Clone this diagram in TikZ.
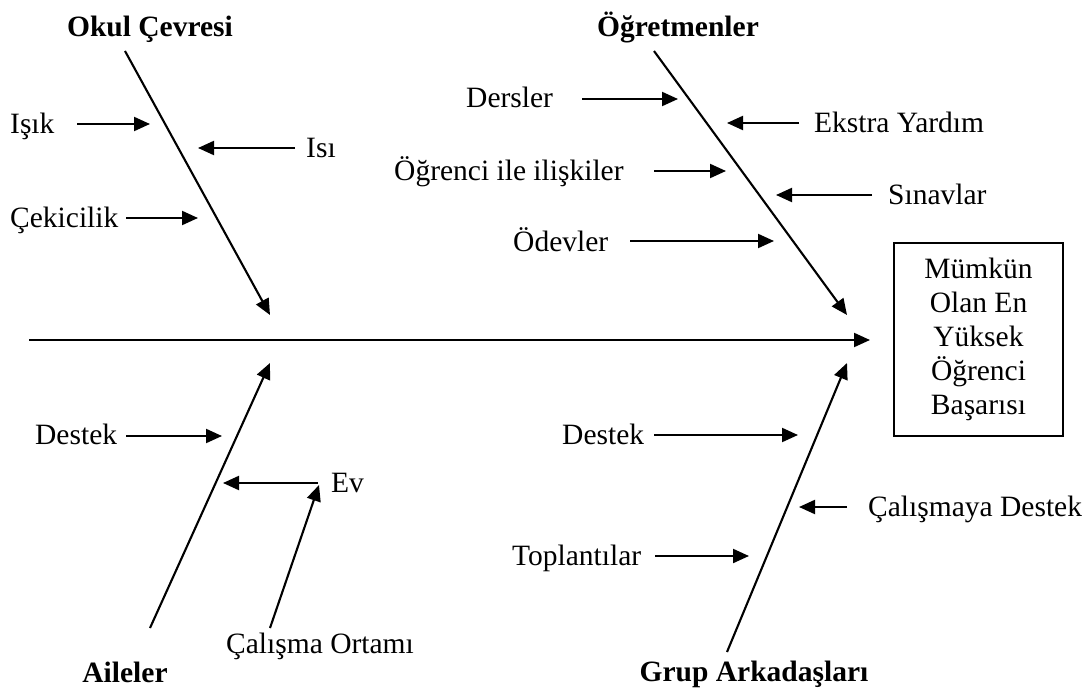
\documentclass[tikz,border=0pt]{standalone}
\usepackage{fontspec}
\setmainfont{Liberation Serif}
\usetikzlibrary{arrows.meta}
\begin{document}
\begin{tikzpicture}[x=1pt,y=-1pt,
  txt/.style={inner sep=0pt, text height=19.5pt, text depth=0pt, font=\fontsize{29.5}{34}\selectfont},
  lbl/.style={txt, anchor=west},
  ttl/.style={txt, anchor=center, font=\fontsize{29.5}{34}\selectfont\bfseries},
  arr/.style={-{Triangle[length=16pt,width=14pt]}, line width=2.1pt},
  goalbox/.style={draw, line width=2pt, minimum width=169pt, minimum height=193pt, align=center, inner sep=0pt, font=\fontsize{29.5}{34}\selectfont}]
\useasboundingbox (0,0) rectangle (1092,690);

% titles
\node[ttl] (okul) at (150,27) {Okul Çevresi};
\node[ttl] (ogret) at (678,27) {Öğretmenler};
\node[ttl] (aile) at (125,673) {Aileler};
\node[ttl] (grup) at (754,672) {Grup Arkadaşları};

% goal box
\node[goalbox] (goal) at (978.5,339.5) {Mümkün\\Olan En\\Yüksek\\Öğrenci\\Başarısı};

% labels
\node[lbl] (isik) at (10,124) {Işık};
\node[lbl] (isi) at (306,148) {Isı};
\node[lbl] (cek) at (10,218) {Çekicilik};
\node[lbl] (ders) at (466,98) {Dersler};
\node[lbl] (ogrenci) at (394,171) {Öğrenci ile ilişkiler};
\node[lbl] (odev) at (513,242) {Ödevler};
\node[lbl] (ekstra) at (814,123) {Ekstra Yardım};
\node[lbl] (sinav) at (888,195) {Sınavlar};
\node[lbl] (destekL) at (35,435) {Destek};
\node[lbl] (ev) at (331,483) {Ev};
\node[lbl] (calort) at (226,644) {Çalışma Ortamı};
\node[lbl] (destekR) at (562,435) {Destek};
\node[lbl] (calis) at (868,507) {Çalışmaya Destek};
\node[lbl] (topl) at (512,556) {Toplantılar};

% spine and bones
\coordinate (spS) at (29,340);  \coordinate (spE) at (870,340);
\coordinate (okS) at (125,51);  \coordinate (okE) at (270,315);
\coordinate (ogS) at (654,51);  \coordinate (ogE) at (847,315);
\coordinate (aiS) at (150,628); \coordinate (aiE) at (270,363);
\coordinate (grS) at (727,652); \coordinate (grE) at (847,363);
\draw[arr] (spS) -- (spE);
\draw[arr] (okS) -- (okE);
\draw[arr] (ogS) -- (ogE);
\draw[arr] (aiS) -- (aiE);
\draw[arr] (grS) -- (grE);

% small arrows
\coordinate (a1s) at (77,124);  \coordinate (a1e) at (150,124);
\coordinate (a2s) at (295,148); \coordinate (a2e) at (198,148);
\coordinate (a3s) at (126,218); \coordinate (a3e) at (198,218);
\coordinate (a4s) at (582,99);  \coordinate (a4e) at (678,99);
\coordinate (a5s) at (799,123); \coordinate (a5e) at (727,123);
\coordinate (a6s) at (654,171); \coordinate (a6e) at (726,171);
\coordinate (a7s) at (872,195); \coordinate (a7e) at (776,195);
\coordinate (a8s) at (630,241); \coordinate (a8e) at (774,241);
\coordinate (b1s) at (126,436); \coordinate (b1e) at (222,436);
\coordinate (b2s) at (318,483); \coordinate (b2e) at (223,483);
\coordinate (b3s) at (270,628); \coordinate (b3e) at (319,485);
\coordinate (b4s) at (654,435); \coordinate (b4e) at (798,435);
\coordinate (b5s) at (847,507); \coordinate (b5e) at (799,507);
\coordinate (b6s) at (655,556); \coordinate (b6e) at (749,556);
\foreach \p in {a1,a2,a3,a4,a5,a6,a7,a8,b1,b2,b3,b4,b5,b6}
  \draw[arr] (\p s) -- (\p e);
\end{tikzpicture}
\end{document}
